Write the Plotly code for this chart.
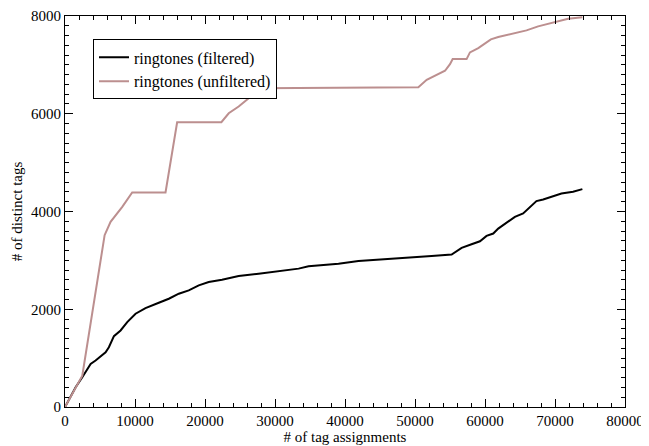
import plotly.graph_objects as go

# filtered series
filt_x = [0, 1520, 2470, 3660, 4370, 5800, 6270, 6990, 7940, 8890, 10080, 11500, 13400, 14830,
          16260, 17680, 19110, 20530, 22430, 24810, 27660, 30040, 33370, 34790, 38120, 39070,
          41920, 43830, 48580, 52380, 55230, 56660, 58080, 59280, 60220, 61180, 61890, 63320,
          64270, 65450, 66410, 67350, 68310, 69490, 70920, 72580, 73910]
filt_y = [0, 404, 609, 882, 950, 1121, 1224, 1450, 1566, 1737, 1908, 2024, 2133, 2215,
          2318, 2386, 2489, 2557, 2605, 2680, 2728, 2776, 2831, 2878, 2919, 2930,
          2988, 3009, 3056, 3091, 3118, 3255, 3329, 3391, 3501, 3549, 3651, 3788,
          3891, 3959, 4096, 4212, 4246, 4301, 4369, 4403, 4458]

# unfiltered series
unf_x = [0, 2470, 5660, 6510, 8180, 9600, 14360, 16020, 22340, 23390, 24810, 26240, 27520,
         38120, 41920, 46680, 50480, 51670, 53330, 54290, 55000, 55380, 57370, 57850, 59040,
         59990, 60840, 61890, 63790, 65930, 67590, 69970, 71870, 73910]
unf_y = [0, 642, 3515, 3790, 4096, 4390, 4390, 5826, 5826, 6010, 6147, 6318, 6523,
         6537, 6544, 6544, 6544, 6695, 6810, 6880, 7015, 7118, 7118, 7255, 7344,
         7432, 7522, 7569, 7631, 7706, 7788, 7877, 7945, 7973]

x_ticks = [0, 10000, 20000, 30000, 40000, 50000, 60000, 70000, 80000]
y_ticks = [0, 2000, 4000, 6000, 8000]

font_family = "Liberation Serif"

fig = go.Figure()
fig.add_trace(go.Scatter(x=filt_x, y=filt_y, mode="lines", name="ringtones (filtered)",
                         line=dict(color="black", width=2)))
fig.add_trace(go.Scatter(x=unf_x, y=unf_y, mode="lines", name="ringtones (unfiltered)",
                         line=dict(color="#bc8f8f", width=2)))

axis_common = dict(showline=True, linecolor="black", linewidth=1, mirror="ticks",
                   ticks="inside", ticklen=8, tickwidth=1, tickcolor="black",
                   showgrid=False, zeroline=False, automargin=False,
                   ticklabeloverflow="allow",
                   tickfont=dict(family=font_family, size=15, color="black"))

fig.update_xaxes(range=[0, 80000], tickvals=x_ticks, ticktext=[str(v) for v in x_ticks],
                 minor=dict(dtick=2000, ticks="inside", ticklen=4, tickcolor="black", showgrid=False),
                 title=dict(text="# of tag assignments", standoff=0,
                            font=dict(family=font_family, size=15, color="black")),
                 **axis_common)
fig.update_yaxes(range=[0, 8000], tickvals=y_ticks, ticktext=[str(v) for v in y_ticks],
                 minor=dict(dtick=200, ticks="inside", ticklen=4, tickcolor="black", showgrid=False),
                 title=dict(text="# of distinct tags", standoff=4,
                            font=dict(family=font_family, size=15, color="black")),
                 **axis_common)

fig.update_layout(
    width=641, height=438,
    margin=dict(l=57, r=24, t=8, b=39),
    paper_bgcolor="white", plot_bgcolor="white",
    showlegend=True,
    legend=dict(x=0.05, y=0.94, xanchor="left", yanchor="top",
                bordercolor="black", borderwidth=1, bgcolor="white",
                font=dict(family=font_family, size=16, color="black"),
                tracegroupgap=0, itemwidth=30),
    font=dict(family=font_family, color="black"),
)

fig.write_html("out.html")
